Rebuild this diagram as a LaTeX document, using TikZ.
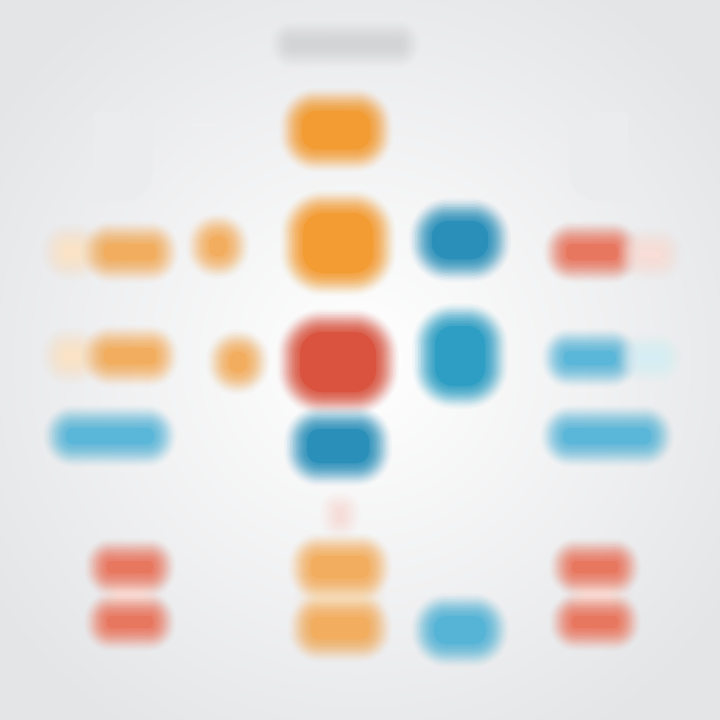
\documentclass[tikz,border=0pt]{standalone}
\begin{document}
\begin{tikzpicture}[x=1pt,y=-1pt]
\definecolor{bg}{HTML}{E4E5E7}
\definecolor{org}{HTML}{F39C33}
\definecolor{orgl}{HTML}{F2AE5E}
\definecolor{redd}{HTML}{D9533F}
\definecolor{redl}{HTML}{E8775F}
\definecolor{blud}{HTML}{2A90BA}
\definecolor{blum}{HTML}{2E9EC4}
\definecolor{blul}{HTML}{5BB7D9}
\definecolor{gry}{HTML}{D3D4D6}
\newcommand\blob[7]{%
  \foreach \k in {0,...,15}{%
    \pgfmathsetmacro\off{13-\k*1.5}%
    \pgfmathsetmacro\rad{max(1,#7+\off)}%
    \pgfmathsetmacro\op{0.03+0.014*\k}%
    \fill[#6, opacity=\op, rounded corners=\rad]
      ({#2-#4/2-\off},{#3-#5/2-\off}) rectangle ({#2+#4/2+\off},{#3+#5/2+\off});
  }%
  \pgfmathsetmacro\cw{#4-20}\pgfmathsetmacro\ch{#5-20}\pgfmathsetmacro\cr{max(1,#7-10)}%
  \node[fill=#6, rounded corners=\cr, minimum width=\cw, minimum height=\ch, inner sep=0pt] (#1) at (#2,#3) {};
}
\useasboundingbox (0,0) rectangle (720,720);
\shade[inner color=white, outer color=bg] (-80,-80) rectangle (800,800);
% title
\blob{title}{345}{44}{126}{22}{gry}{10}
% faint top elements
\blob{tl}{112}{145}{56}{86}{gry!45}{12}
\blob{tl2}{205}{125}{50}{22}{gry!35}{10}
\blob{tr}{610}{145}{56}{86}{gry!45}{12}
\blob{tr2}{440}{130}{60}{20}{gry!30}{10}
% top center orange
\blob{o1}{336}{130}{88}{58}{org}{24}
% row 1
\blob{l1f}{72}{252}{36}{32}{orgl!35}{14}
\blob{l1}{130}{252}{72}{36}{orgl}{16}
\blob{c1}{218}{246}{38}{40}{orgl}{18}
\blob{o2}{338}{243}{90}{80}{org}{30}
\blob{b1}{460}{240}{76}{58}{blud}{26}
\blob{r1}{592}{252}{72}{36}{redl}{16}
\blob{r1f}{650}{254}{40}{28}{redl!25}{12}
% row 2
\blob{l2f}{72}{356}{36}{32}{orgl!35}{14}
\blob{l2}{130}{356}{72}{36}{orgl}{16}
\blob{c2}{238}{362}{38}{40}{orgl}{18}
\blob{r2c}{338}{362}{96}{80}{redd}{32}
\blob{b2}{460}{356}{70}{80}{blum}{28}
\blob{b2r}{590}{358}{72}{34}{blul}{15}
\blob{b2f}{650}{358}{40}{26}{blul!25}{12}
% row 3
\blob{b3l}{110}{436}{108}{36}{blul}{17}
\blob{b3c}{338}{446}{82}{54}{blud}{22}
\blob{b3r}{607}{436}{108}{36}{blul}{17}
% faint mark
\blob{m}{340}{515}{16}{22}{redl!25}{6}
% bottom faint connectors
\blob{lk}{130}{595}{46}{34}{redl!20}{8}
\blob{ck}{340}{598}{66}{34}{orgl!30}{8}
\blob{rk}{597}{595}{46}{34}{redl!20}{8}
% bottom row
\blob{r4a}{130}{567}{66}{32}{redl}{14}
\blob{r4b}{130}{622}{66}{32}{redl}{14}
\blob{o4a}{340}{567}{78}{42}{orgl}{18}
\blob{o4b}{340}{628}{78}{42}{orgl}{18}
\blob{b4}{460}{630}{72}{48}{blul!90!blum}{22}
\blob{r4c}{595}{567}{66}{32}{redl}{14}
\blob{r4d}{595}{622}{66}{32}{redl}{14}
\end{tikzpicture}
\end{document}
